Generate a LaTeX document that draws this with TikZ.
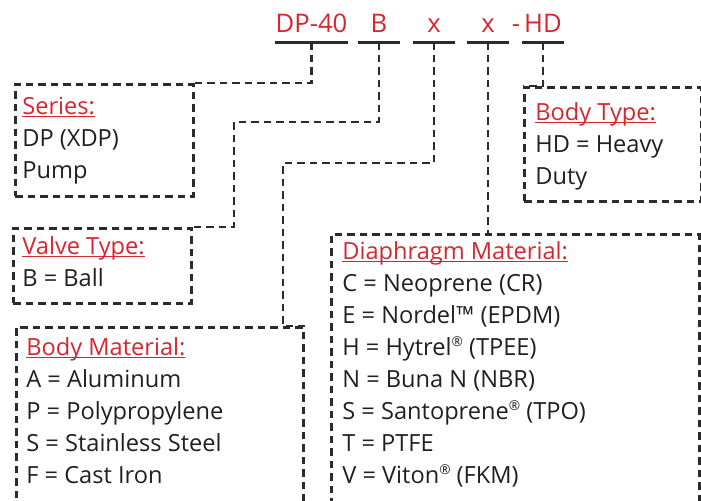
\documentclass[tikz,border=0pt]{standalone}
\usepackage{fontspec}
\setmainfont{Open Sans}
\usetikzlibrary{positioning,calc}
\definecolor{dpred}{HTML}{D7262F}
\definecolor{ink}{HTML}{231F20}
\definecolor{leadgray}{HTML}{2B2B2B}
\newcommand{\keyhead}[1]{{\color{dpred}\setbox0\hbox{#1}\rlap{\rule[-1.6pt]{\wd0}{0.6pt}}\box0}}
\newcommand{\regmark}{\raisebox{0.38em}{\fontsize{6.8}{6.8}\selectfont ®}}
\tikzset{
  codepart/.style={
    font=\fontsize{12.8}{16}\selectfont, text=dpred,
    minimum width=#1, inner sep=0pt, text depth=5pt, anchor=base
  },
  codepart/.default=21pt,
  codesep/.style={font=\fontsize{12.8}{16}\selectfont, text=dpred,
    inner sep=0pt, anchor=base},
  codeline/.style={line width=1.5pt, color=leadgray},
  keybox/.style={
    draw=leadgray, line width=1.4pt, dash pattern=on 3.75pt off 2.5pt,
    anchor=north west, inner sep=0pt
  },
  keytext/.style={
    font=\fontsize{11.8}{16}\selectfont, text=ink, align=left,
    inner sep=0pt, anchor=base west
  },
  leader/.style={line width=1.4pt, color=leadgray, dash pattern=on 3.75pt off 2.5pt},
}
\begin{document}
\begin{tikzpicture}[x=0.5pt,y=-0.5pt]
\useasboundingbox (0,0) rectangle (701,500);
\clip (0,0) rectangle (701,500);

% part number
\node[codepart=34.5pt] (dp) at (311.5,32) {DP-40};
\node[codepart] (valvecode) at (379,32) {B};
\node[codepart] (matlcode) at (434,32) {x};
\node[codepart] (diacode) at (488,32) {x};
\node[codesep] (hyph) at (516,32) {-};
\node[codepart] (hd) at (543,32) {HD};
\foreach \p in {dp,valvecode,matlcode,diacode,hd}
  \draw[codeline] (\p.south west) -- (\p.south east);

% key boxes
\node[keybox, minimum width=89pt, minimum height=56pt] (series) at (14,83) {};
\node[keybox, minimum width=89pt, minimum height=37.5pt] (valve) at (12,227) {};
\node[keybox, minimum width=143.5pt, minimum height=100pt] (matl) at (15,326) {};
\node[keybox, minimum width=88.5pt, minimum height=57pt] (btype) at (523,86) {};
\node[keybox, minimum width=184pt, minimum height=150pt] (diaph) at (330,233) {};

% key texts (anchored at the baseline of the last line)
\node[keytext] (seriestxt) at ([shift={(8,95)}]series.north west)
  {\keyhead{Series:}\\DP (XDP)\\Pump};
\node[keytext] (valvetxt) at ([shift={(10,59)}]valve.north west)
  {\keyhead{Valve Type:}\\B = Ball};
\node[keytext] (matltxt) at ([shift={(11,157)}]matl.north west)
  {\keyhead{Body Material:}\\A = Aluminum\\P = Polypropylene\\S = Stainless Steel\\F = Cast Iron};
\node[keytext] (btypetxt) at ([shift={(12,98)}]btype.north west)
  {\keyhead{Body Type:}\\HD = Heavy\\Duty};
\node[keytext] (diaphtxt) at ([shift={(12,250)}]diaph.north west)
  {\keyhead{Diaphragm Material:}\\C = Neoprene (CR)\\E = Nordel™ (EPDM)\\H = Hytrel\regmark{} (TPEE)\\N = Buna N (NBR)\\S = Santoprene\regmark{} (TPO)\\T = PTFE\\V = Viton\regmark{} (FKM)};

% leaders
\coordinate (valvebend) at (234,122);
\coordinate (matlbend) at (283,163);
\draw[leader] (dp.south) |- (series.north east);
\draw[leader] (valvecode.south) |- (valvebend) |- (valve.north east);
\draw[leader] (matlcode.south) |- (matlbend) |- (matl.north east);
\draw[leader] (diacode.south) -- (diacode.south |- diaph.north);
\draw[leader] (hd.south) |- (btype.north west);

\end{tikzpicture}
\end{document}
